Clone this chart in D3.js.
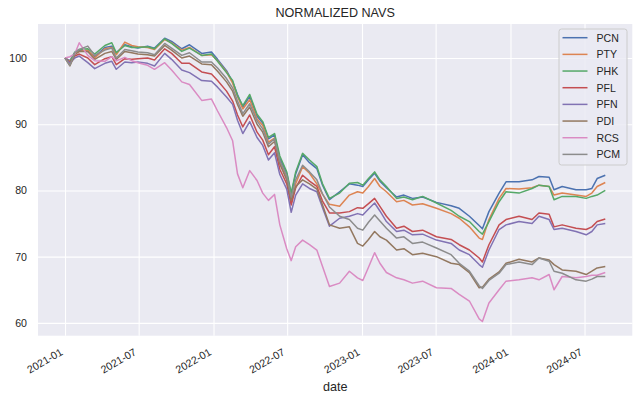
<!DOCTYPE html>
<html>
<head>
<meta charset="utf-8">
<script src="https://cdn.jsdelivr.net/npm/d3@7"></script>
<style>
body { margin: 0; background: #fff; }
svg { display: block; font-family: "Liberation Sans", Arial, sans-serif; }
</style>
</head>
<body>
<svg id="chart" width="640" height="401"></svg>
<script>
// データ
var dates = ["2021-01-01","2021-01-13","2021-01-25","2021-02-05","2021-02-26","2021-03-15","2021-04-09","2021-04-26","2021-05-07","2021-05-28",
  "2021-06-14","2021-06-29","2021-07-23","2021-08-09","2021-09-03","2021-09-20","2021-10-15","2021-11-03","2021-12-03","2021-12-27",
  "2022-01-11","2022-02-02","2022-02-17","2022-03-01","2022-03-14","2022-03-31","2022-04-18","2022-05-02","2022-05-16","2022-05-31",
  "2022-06-13","2022-06-30","2022-07-11","2022-07-22","2022-08-08","2022-08-25","2022-09-12","2022-09-26","2022-10-13","2022-11-07",
  "2022-12-01","2022-12-21","2023-01-03","2023-01-17","2023-02-01","2023-02-14","2023-03-02","2023-03-27","2023-04-14","2023-05-05",
  "2023-05-30","2023-07-03","2023-08-08","2023-08-28","2023-09-22","2023-10-16","2023-10-24","2023-11-09","2023-12-04","2023-12-21",
  "2024-01-22","2024-02-23","2024-03-11","2024-04-05","2024-04-17","2024-05-07","2024-06-10","2024-07-05","2024-07-19","2024-08-01",
  "2024-08-21"];

var pcn = [100,99.6,100.8,101.2,101.0,100.2,101.6,101.8,100.8,102.0, 101.7,101.5,101.8,101.5,103.0,102.5,101.4,102.0,100.7,100.9,
  99.8,98.1,96.4,94.5,92.6,94.2,91.2,90.2,87.8,88.4, 84.8,82.6,79.4,82.5,85.4,84.2,83.3,80.8,78.6,79.8,
  81.0,80.8,80.6,81.6,82.6,81.4,80.4,79.0,79.3,78.8, 79.0,78.2,77.7,77.3,76.1,74.7,74.2,76.8,79.6,81.3,
  81.3,81.6,82.1,82.0,80.1,80.6,80.1,80.1,80.3,81.8, 82.3];
var pty = [100,99.5,100.7,101.0,101.2,100.0,101.4,101.6,100.5,102.4, 101.9,101.7,101.6,101.3,102.8,102.3,101.2,101.6,100.4,100.5,
  99.6,97.9,96.2,94.2,92.3,93.7,90.8,89.8,87.3,87.9, 84.2,81.8,78.0,81.0,83.6,82.6,81.0,79.4,77.9,77.6,
  79.3,79.8,79.6,80.6,81.8,80.6,79.8,78.3,78.5,77.8, 78.0,77.3,76.5,75.8,74.5,72.8,72.6,75.6,78.8,80.3,
  80.2,80.4,80.8,80.6,79.3,79.6,79.3,79.1,79.6,80.6, 81.2];
var phk = [100,99.4,100.9,101.3,101.4,100.6,101.9,102.3,100.8,101.9, 101.6,101.6,101.7,101.4,102.9,102.2,101.0,101.5,100.4,100.6,
  99.5,97.8,96.6,94.3,92.8,94.5,91.5,90.4,88.0,88.6, 85.2,82.8,79.6,82.8,85.6,84.6,83.6,81.0,78.8,79.6,
  81.1,81.2,80.8,81.8,82.8,81.6,80.6,78.8,79.0,78.6, 79.1,78.1,77.0,76.1,75.3,73.8,73.4,75.3,78.3,79.8,
  79.6,80.3,80.8,80.6,78.6,79.1,79.1,78.8,79.1,79.3, 80.0];
var pfl = [100,99.3,100.3,100.6,100.0,99.0,99.9,100.2,99.0,99.9, 99.8,99.9,100.0,99.7,101.4,100.7,99.2,99.2,97.9,97.6,
  96.6,95.0,93.5,91.4,89.6,91.4,88.8,87.6,85.4,86.6, 83.2,81.0,77.8,80.4,82.3,81.4,80.6,78.4,76.6,76.6,
  76.8,77.4,77.3,78.0,78.8,77.6,76.1,74.3,74.6,73.8, 74.0,73.0,72.6,71.8,71.0,69.8,69.2,71.8,74.8,75.6,
  76.1,75.6,76.6,76.4,74.5,74.8,74.3,74.1,74.5,75.3, 75.7];
var pfn = [100,99.2,100.0,100.3,99.3,98.4,99.2,99.5,98.3,99.4, 99.3,99.4,99.2,98.8,100.7,99.8,98.2,97.8,96.6,96.5,
  95.6,94.1,93.0,90.6,88.6,90.4,88.0,86.8,84.6,85.7, 82.4,80.2,76.7,79.3,81.0,80.3,79.8,77.4,74.6,75.8,
  76.1,76.5,76.3,77.2,78.1,76.9,75.3,73.8,74.0,73.3, 73.4,72.5,72.0,71.0,70.3,68.8,68.4,71.0,74.1,74.8,
  75.3,75.0,76.1,75.6,74.1,74.3,73.8,73.3,73.8,74.8, 75.0];
var pdi = [100,98.8,100.5,101.0,101.0,99.8,100.7,101.0,99.8,101.0, 100.8,100.6,100.5,100.3,101.9,101.2,100.0,100.3,99.1,99.0,
  98.0,96.4,95.0,93.0,91.2,92.6,90.0,88.8,86.6,87.4, 84.0,81.6,78.5,80.6,81.6,81.0,80.2,77.8,74.8,74.3,
  74.5,72.0,71.6,72.6,73.8,73.0,72.5,71.0,71.2,70.3, 70.5,70.0,69.0,68.8,67.6,65.3,65.4,66.6,67.7,69.0,
  69.6,69.2,69.8,69.5,68.8,68.0,67.8,67.3,67.8,68.3, 68.5];
var rcs = [100,100.2,100.6,102.3,100.4,99.6,99.5,100.2,99.6,100.1, 99.6,99.3,98.9,98.3,99.3,98.2,96.4,96.0,93.6,93.8,
  92.0,89.5,87.5,82.5,80.4,83.0,81.5,79.6,78.5,79.4, 74.8,71.2,69.4,71.5,72.5,71.8,71.0,68.5,65.5,66.0,
  67.8,66.8,66.4,68.4,70.6,69.0,67.6,66.8,66.5,66.0, 66.3,65.3,65.2,64.3,63.3,60.6,60.2,63.0,65.0,66.3,
  66.5,66.8,66.5,67.3,65.0,67.0,66.8,67.0,67.2,67.2, 67.6];
var pcm = [100,98.9,100.8,101.3,101.8,100.4,101.2,101.5,100.0,101.3, 101.1,100.9,100.8,100.5,102.2,101.5,100.4,100.8,99.4,99.4,
  98.5,96.9,95.5,93.5,91.6,93.1,90.5,89.3,87.0,87.8, 84.5,82.2,79.0,81.6,83.8,82.8,81.6,79.5,77.5,76.1,
  75.6,74.3,74.0,75.2,76.3,75.4,74.3,72.8,73.0,72.0, 72.2,71.3,70.3,69.0,67.8,65.6,65.2,66.4,67.5,68.8,
  69.2,68.8,69.8,69.3,67.8,67.5,66.5,66.3,66.6,67.0, 67.0];

var names = ["PCN","PTY","PHK","PFL","PFN","PDI","RCS","PCM"];
var values = [pcn, pty, phk, pfl, pfn, pdi, rcs, pcm];
var yTicks = [60, 70, 80, 90, 100];
var xTicks = ["2021-01","2021-07","2022-01","2022-07","2023-01","2023-07","2024-01","2024-07"];

// seaborn deep の色
var color = ["#4c72b0","#dd8452","#55a868","#c44e52","#8172b3","#937860","#da8bc3","#8c8c8c"];
var textColor = "#262626";

var margin = {left: 38, top: 24, right: 640 - 632.3, bottom: 401 - 335.7};
var width = 640 - margin.left - margin.right;
var height = 401 - margin.top - margin.bottom;

var parse = d3.utcParse("%Y-%m-%d");
var dt = dates.map(parse);

var series = names.map(function(n, i) {
    return {name: n, points: dt.map(function(d, j) { return {date: d, v: values[i][j]}; })};
});

// matplotlib と同じく 5% の余白
var xr = d3.extent(dt);
var xpad = (xr[1] - xr[0]) * 0.05;
var x = d3.scaleUtc()
    .domain([new Date(+xr[0] - xpad), new Date(+xr[1] + xpad)])
    .range([0, width]);

var ymin = d3.min(values, function(s) { return d3.min(s); });
var ymax = d3.max(values, function(s) { return d3.max(s); });
var ypad = (ymax - ymin) * 0.05;
var y = d3.scaleLinear()
    .domain([ymin - ypad, ymax + ypad])
    .range([height, 0]);

var svg = d3.select("#chart");
var g = svg.append("g")
    .attr("transform", "translate(" + margin.left + "," + margin.top + ")");

g.append("rect")
    .attr("width", width)
    .attr("height", height)
    .attr("fill", "#eaeaf2");

// y軸とグリッド
var yAxis = g.append("g")
    .call(d3.axisLeft(y).tickValues(yTicks).tickSize(-width).tickPadding(11));
yAxis.select(".domain").remove();
yAxis.selectAll("line").attr("stroke", "#fff").attr("stroke-width", 1.1);
yAxis.selectAll("text")
    .attr("fill", textColor)
    .style("font-size", "10.6px");

// x軸とグリッド
var xAxis = g.append("g")
    .attr("transform", "translate(0," + height + ")")
    .call(d3.axisBottom(x)
        .tickValues(xTicks.map(d3.utcParse("%Y-%m")))
        .tickSize(-height)
        .tickFormat(d3.utcFormat("%Y-%m")));
xAxis.select(".domain").remove();
xAxis.selectAll("line").attr("stroke", "#fff").attr("stroke-width", 1.1);
xAxis.selectAll("text")
    .attr("fill", textColor)
    .attr("y", null)
    .attr("dy", null)
    .attr("text-anchor", "end")
    .attr("transform", "translate(-2,18.5) rotate(-30)")
    .style("font-size", "10.6px");

var line = d3.line()
    .x(function(d) { return x(d.date); })
    .y(function(d) { return y(d.v); });

g.selectAll(".series")
    .data(series)
    .enter().append("path")
    .attr("class", "series")
    .attr("fill", "none")
    .attr("stroke", function(d, i) { return color[i]; })
    .attr("stroke-width", 1.5)
    .attr("stroke-linejoin", "round")
    .attr("d", function(d) { return line(d.points); });

// タイトルとラベル
svg.append("text")
    .attr("x", margin.left + width / 2)
    .attr("y", 16.7)
    .attr("text-anchor", "middle")
    .attr("fill", textColor)
    .style("font-size", "12.6px")
    .text("NORMALIZED NAVS");

svg.append("text")
    .attr("x", margin.left + width / 2)
    .attr("y", 391)
    .attr("text-anchor", "middle")
    .attr("fill", textColor)
    .style("font-size", "12.6px")
    .text("date");

// 凡例
var legend = svg.append("g").attr("transform", "translate(559,29)");
legend.append("rect")
    .attr("width", 68)
    .attr("height", 136)
    .attr("rx", 2.5)
    .attr("fill", "#eaeaf2")
    .attr("fill-opacity", 0.8)
    .attr("stroke", "#cccccc")
    .attr("stroke-width", 1);

var item = legend.selectAll(".item")
    .data(names)
    .enter().append("g")
    .attr("class", "item")
    .attr("transform", function(d, i) { return "translate(0," + (8.7 + i * 16.67) + ")"; });
item.append("line")
    .attr("x1", 3.5)
    .attr("x2", 28.5)
    .attr("stroke", function(d, i) { return color[i]; })
    .attr("stroke-width", 1.5);
item.append("text")
    .attr("x", 37.5)
    .attr("y", 3.8)
    .attr("fill", textColor)
    .style("font-size", "10.6px")
    .text(function(d) { return d; });
</script>
</body>
</html>
